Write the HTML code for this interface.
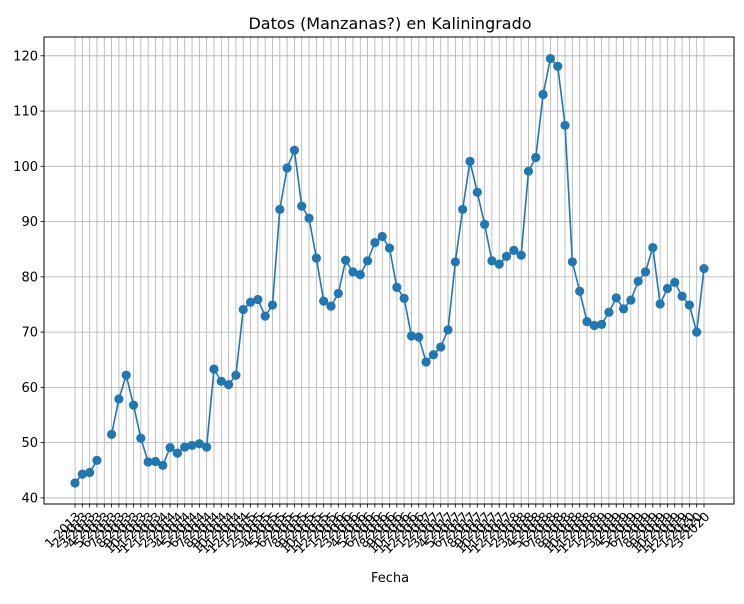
<!DOCTYPE html>
<html><head><meta charset="utf-8"><style>
html,body{margin:0;padding:0;background:#fff;}
svg text{font-family:"DejaVu Sans","Liberation Sans",sans-serif;}
</style></head><body>
<svg id="chart" width="744" height="599" viewBox="0 0 744 599" xmlns="http://www.w3.org/2000/svg">
<rect width="744" height="599" fill="#fff"/>
<text x="390" y="29" font-size="16" text-anchor="middle">Datos (Manzanas?) en Kaliningrado</text>
<text x="390" y="582" font-size="13" text-anchor="middle">Fecha</text>
<g id="grid"></g><g id="series"></g><g id="axes"></g>
</svg>
<script>
const values = [42.7,44.3,44.6,46.8,null,51.5,57.9,62.2,56.8,50.8,46.5,46.6,45.9,49.1,48.1,49.2,49.5,49.8,49.2,63.3,61.1,60.5,62.2,74.1,75.4,75.9,72.9,74.9,92.2,99.7,102.9,92.8,90.6,83.4,75.6,74.7,77.0,83.0,80.9,80.4,82.9,86.2,87.3,85.2,78.1,76.1,69.3,69.1,64.6,65.9,67.3,70.4,82.7,92.2,100.9,95.3,89.5,82.9,82.3,83.7,84.8,83.9,99.1,101.6,113.0,119.5,118.1,107.4,82.7,77.4,71.9,71.2,71.4,73.6,76.2,74.2,75.8,79.2,80.9,85.3,75.1,77.9,79.0,76.5,74.9,70.0,81.5];
const startYear = 2013;
const dateLabels = [];
for (let i = 0; i < values.length; i++) dateLabels.push(((i % 12) + 1) + "-" + (startYear + Math.floor(i / 12)));
const yTicks = [40,50,60,70,80,90,100,110,120];

const NS = "http://www.w3.org/2000/svg";
const L = 44, R = 734, T = 37, B = 504;
const n = values.length;
const xmin = -4.24, xmax = (n - 1) + 4.1;
const ymin = 38.9, ymax = 123.4;
const xs = i => L + (i - xmin) / (xmax - xmin) * (R - L);
const ys = v => B - (v - ymin) / (ymax - ymin) * (B - T);
function mk(tag, attrs, parent) { const e = document.createElementNS(NS, tag); for (const k in attrs) e.setAttribute(k, attrs[k]); parent.appendChild(e); return e; }
const grid = document.getElementById('grid'), series = document.getElementById('series'), axes = document.getElementById('axes');

dateLabels.forEach((lab, i) => {
  const x = xs(i);
  const g = mk('line', {x1: x, x2: x, y1: T, y2: B, stroke: '#b0b0b0', 'stroke-width': 0.8}, grid);
  
  
  const t = mk('line', {x1: x, x2: x, y1: B, y2: B + 3.5, stroke: '#000', 'stroke-width': 0.8}, axes);
  
  
  const tx = mk('text', {x: x, y: B + 16, 'font-size': 12.5, 'text-anchor': 'end', transform: `rotate(-45 ${x} ${B + 7})`}, axes);
  
  
  tx.textContent = lab;
});
yTicks.forEach(v => {
  const y = ys(v);
  const g = mk('line', {x1: L, x2: R, y1: y, y2: y, stroke: '#b0b0b0', 'stroke-width': 0.8}, grid);
  
  
  const t = mk('line', {x1: L - 3.5, x2: L, y1: y, y2: y, stroke: '#000', 'stroke-width': 0.8}, axes);
  
  
  const tx = mk('text', {x: L - 6, y: y + 4.5, 'font-size': 13, 'text-anchor': 'end'}, axes);
  
  
  tx.textContent = v;
});
const frame = mk('rect', {x: L, y: T, width: R - L, height: B - T, fill: 'none', stroke: '#000', 'stroke-width': 1}, axes);



let d = '', pen = false;
values.forEach((v, i) => {
  if (v === null) { pen = false; return; }
  d += (pen ? 'L' : 'M') + xs(i).toFixed(2) + ' ' + ys(v).toFixed(2) + ' ';
  pen = true;
});
const line = mk('path', {d: d, fill: 'none', stroke: '#1f77b4', 'stroke-width': 1.6}, series);


values.forEach((v, i) => {
  if (v === null) return;
  const c = mk('circle', {cx: xs(i), cy: ys(v), r: 4.6, fill: '#1f77b4'}, series);
  
  
});
</script>
</body></html>
